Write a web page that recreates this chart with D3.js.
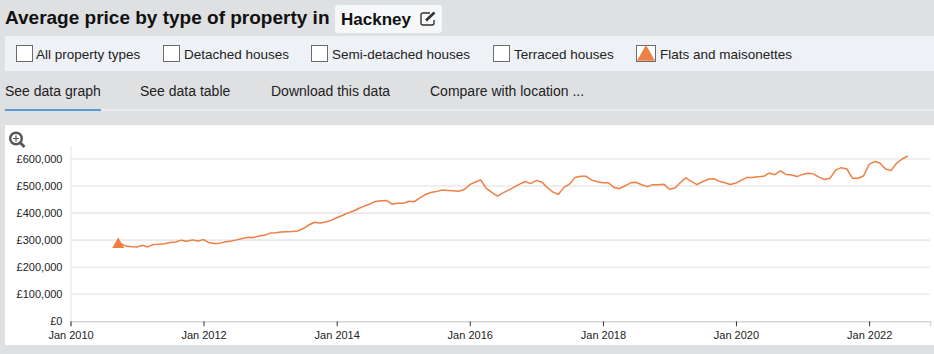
<!DOCTYPE html>
<html>
<head>
<meta charset="utf-8">
<script src="https://cdn.jsdelivr.net/npm/d3@7"></script>
<style>
html, body { margin: 0; padding: 0; background: #dfe0e2; overflow: hidden; }
svg { display: block; font-family: "Liberation Sans", Arial, sans-serif; }
</style>
</head>
<body>
<svg id="chart" width="934" height="354"></svg>
<script>
"use strict";

const titleText = "Average price by type of property in";
const placeName = "Hackney";
const legendLabels = ["All property types", "Detached houses", "Semi-detached houses", "Terraced houses", "Flats and maisonettes"];
const tabLabels = ["See data graph", "See data table", "Download this data", "Compare with location ..."];

// First month of the series
const firstMonth = new Date(2010, 9, 1);

// Flats and maisonettes, average price in thousands of pounds, one value a month
const flatPrices = [
    288, 278, 276, 275, 281, 275, 284, 285, 287, 291, 293, 300, 296, 301, 297, 302,
    290, 288, 289, 294, 297, 301, 306, 311, 310, 315, 318, 326, 327, 330, 331, 332, 334,
    343, 356, 366, 363, 367, 373, 383, 391, 400, 407, 417, 426, 433, 443, 446, 447, 433,
    436, 436, 444, 442, 455, 468, 476, 480, 485, 484, 483, 481, 487, 505, 515, 523,
    491, 477, 463, 475, 485, 496, 507, 517, 509, 521, 514, 495, 478, 469, 495, 507, 532,
    536, 536, 522, 516, 512, 512, 495, 491, 500, 512, 514, 505, 498, 505, 505, 507, 488,
    493, 512, 530, 517, 505, 516, 525, 527, 518, 512, 506, 511, 522, 532, 532, 534, 536,
    548, 542, 556, 543, 541, 535, 543, 547, 545, 533, 524, 529, 559, 568, 563, 529, 529,
    537, 580, 591, 585, 563, 557, 584, 600, 611
];

const yTicks = [0, 100, 200, 300, 400, 500, 600];
const xTicks = [2010, 2012, 2014, 2016, 2018, 2020, 2022].map((y) => new Date(y, 0, 1));

const flatColor = "#ee7f45";
const svg = d3.select("#chart");

// Header strip
svg.append("text").attr("x", 5).attr("y", 24)
    .attr("font-size", 19).attr("font-weight", "bold").attr("fill", "#111")
    .text(titleText);
svg.append("rect").attr("x", 335).attr("y", 5).attr("width", 107).attr("height", 28).attr("rx", 3).attr("fill", "#f6f7f8");
svg.append("text").attr("x", 341).attr("y", 25)
    .attr("font-size", 17).attr("font-weight", "bold").attr("fill", "#111")
    .text(placeName);

// Edit icon next to the place name
const editIcon = svg.append("g").attr("transform", "translate(420,11)")
    .attr("fill", "none").attr("stroke", "#333");
editIcon.append("path").attr("stroke-width", 1.4)
    .attr("d", "M10 2H3a2 2 0 0 0-2 2v8a2 2 0 0 0 2 2h9a2 2 0 0 0 2-2V9");
editIcon.append("path").attr("stroke-width", 2.6).attr("d", "M6 9.5L14.5 1.5");

// Legend strip
svg.append("rect").attr("x", 5).attr("y", 36).attr("width", 929).attr("height", 35).attr("fill", "#eef1f6");
const legendBoxX = [16, 163, 311, 493, 636];
const legendTextX = [36, 184, 332, 514, 660];
const legendItem = svg.selectAll(".legend").data(legendLabels).join("g").attr("class", "legend");
legendItem.append("rect")
    .attr("x", (d, i) => legendBoxX[i] + 0.5).attr("y", 45.5)
    .attr("width", (d, i) => i === 4 ? 19 : 16).attr("height", 16)
    .attr("fill", "#fff").attr("stroke", "#6b6b6b");
legendItem.append("text")
    .attr("x", (d, i) => legendTextX[i]).attr("y", 59)
    .attr("font-size", 13.5).attr("fill", "#222")
    .text((d) => d);
svg.append("path").attr("d", d3.symbol(d3.symbolTriangle, 140))
    .attr("transform", "translate(646,55.5)").attr("fill", flatColor);

// Tabs
const tabX = [5, 140, 271, 430];
svg.selectAll(".tab").data(tabLabels).join("text").attr("class", "tab")
    .attr("x", (d, i) => tabX[i]).attr("y", 96)
    .attr("font-size", 14).attr("fill", "#222")
    .text((d) => d);
svg.append("rect").attr("x", 5).attr("y", 109).attr("width", 929).attr("height", 2).attr("fill", "#e9eaec");
svg.append("rect").attr("x", 5).attr("y", 109).attr("width", 96).attr("height", 2).attr("fill", "#5b9bd5");

// Chart panel
svg.append("rect").attr("x", 5).attr("y", 125).attr("width", 929).attr("height", 220).attr("fill", "#fff");

const margin = {top: 145, right: 4, bottom: 33, left: 70.5},
    width = 934 - margin.left - margin.right,
    height = 354 - margin.top - margin.bottom;

const xAxis = d3.scaleTime()
    .domain([new Date(2010, 0, 1), new Date(2022, 11, 1)])
    .range([0, 859.5]);
const yAxis = d3.scaleLinear()
    .domain([0, 650])
    .range([height + 0.3, height + 0.3 - 6.5 * 27.05]);

const plot = svg.append("g").attr("transform", `translate(${margin.left},${margin.top})`);

// Gridlines
plot.selectAll(".grid").data(yTicks.slice(1)).join("line").attr("class", "grid")
    .attr("x1", 0).attr("x2", 859.5)
    .attr("y1", (d) => yAxis(d)).attr("y2", (d) => yAxis(d))
    .attr("stroke", "#e9e9e9").attr("stroke-width", 1.6);

const yAxisG = plot.append("g")
    .call(d3.axisLeft(yAxis).tickValues(yTicks).tickSize(0).tickPadding(8)
        .tickFormat((d) => d === 0 ? "£0" : `£${d},000`));
yAxisG.select(".domain").attr("stroke", "#e6e6e6");

const xAxisG = plot.append("g")
    .attr("transform", `translate(0,${yAxis(0)})`)
    .call(d3.axisBottom(xAxis).tickValues(xTicks).tickSize(5).tickPadding(5)
        .tickFormat(d3.timeFormat("Jan %Y")));
xAxisG.select(".domain").attr("stroke", "#d6d6d6").attr("stroke-width", 1.4);
xAxisG.selectAll(".tick line").attr("stroke", "#333");

plot.selectAll(".tick text")
    .attr("font-family", '"Liberation Sans", Arial, sans-serif')
    .attr("font-size", 11).attr("fill", "#222");

const line = d3.line()
    .x((d, i) => xAxis(d3.timeMonth.offset(firstMonth, i)))
    .y((d) => yAxis(d));

plot.append("path").datum(flatPrices)
    .attr("d", line).attr("fill", "none")
    .attr("stroke", flatColor).attr("stroke-width", 1.5)
    .attr("stroke-linejoin", "round");

// Series marker sits slightly left of the first point
plot.append("path").attr("d", d3.symbol(d3.symbolTriangle, 64))
    .attr("transform", `translate(${xAxis(firstMonth) - 2},${yAxis(flatPrices[0]) + 1})`)
    .attr("fill", flatColor);

// Zoom icon
const zoomIcon = svg.append("g").attr("transform", "translate(16,138.5)").attr("fill", "none").attr("stroke", "#555");
zoomIcon.append("circle").attr("r", 5.8).attr("stroke-width", 2.4);
zoomIcon.append("path").attr("stroke-width", 1.2).attr("d", "M-3 0H3M0 -3V3");
zoomIcon.append("path").attr("stroke-width", 2.8).attr("d", "M4.5 4.5L8.5 8.5");
</script>
</body>
</html>
